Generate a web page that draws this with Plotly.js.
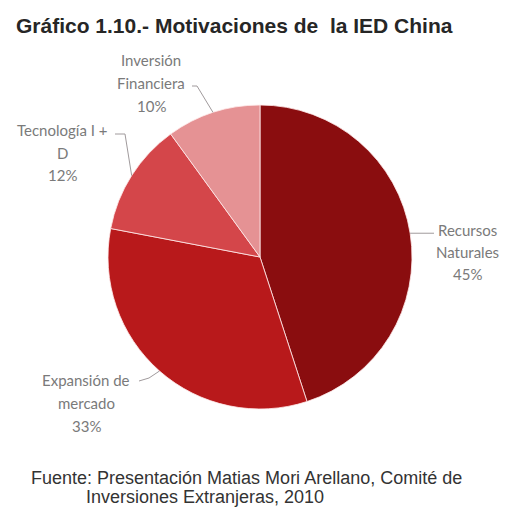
<!DOCTYPE html>
<html>
<head>
<meta charset="utf-8">
<script src="https://cdn.plot.ly/plotly-3.0.1.min.js"></script>
<style>html,body{margin:0;padding:0;background:#fff;}#chart{width:508px;height:508px;}</style>
</head>
<body>
<div id="chart"></div>
<script>
const categories = ['Recursos Naturales', 'Expansión de mercado', 'Tecnología I + D', 'Inversión Financiera'];
const values = [45, 33, 12, 10];
const colors = ['#8a0d0f', '#b8191b', '#d4464a', '#e59294'];
const labelLines = [['Recursos', 'Naturales'], ['Expansión de', 'mercado'], ['Tecnología I +', 'D'], ['Inversión', 'Financiera']];
const titleText = 'Gráfico 1.10.- Motivaciones de  la IED China';
const sourceLines = ['Fuente: Presentación Matias Mori Arellano, Comité de', 'Inversiones Extranjeras, 2010'];

const W = 508, H = 508;
const CX = 260, CY = 257, R = 152;
// label placement (pixels): centre x, first line y, line step; leader elbows
const labelPos = [
  {x: 467, y: 230, step: 22, elbow: [[434, 0]]},
  {x: 86, y: 380, step: 23, elbow: [[149, 378], [139, 381]]},
  {x: 62, y: 130, step: 22.5, elbow: [[125, 134], [115, 134]]},
  {x: 151, y: 60, step: 23, elbow: [[197, 86], [192, 86]]}
];

const px = x => x / W;
const py = y => 1 - y / H;

const total = values.reduce((a, b) => a + b, 0);
let cum = 0;
const annotations = [];
const shapes = [];
values.forEach((v, i) => {
  const mid = (cum + v / 2) / total * 2 * Math.PI;
  cum += v;
  const ex = CX + R * Math.sin(mid), ey = CY - R * Math.cos(mid);
  const lp = labelPos[i];
  const lines = labelLines[i].concat([v + '%']);
  lines.forEach((t, j) => {
    annotations.push({xref: 'paper', yref: 'paper', x: px(lp.x), y: py(lp.y + j * lp.step),
      text: t, showarrow: false, xanchor: 'center', yanchor: 'middle',
      font: {family: 'Lato, sans-serif', size: 15, color: '#7a7a7a'}});
  });
  let path = 'M' + px(ex) + ',' + py(ey);
  lp.elbow.forEach(p => {
    const yy = p[1] === 0 ? ey : p[1];
    path += ' L' + px(p[0]) + ',' + py(yy);
  });
  shapes.push({type: 'path', xref: 'paper', yref: 'paper', path: path, line: {color: '#a09a9c', width: 1}});
});

annotations.push({xref: 'paper', yref: 'paper', x: px(14), y: py(25), xanchor: 'left', yanchor: 'middle',
  text: '<b>' + titleText + '</b>', showarrow: false,
  font: {family: 'Liberation Sans, Arial, sans-serif', size: 21, color: '#262626'}});
annotations.push({xref: 'paper', yref: 'paper', x: px(29), y: py(478), xanchor: 'left', yanchor: 'middle',
  text: sourceLines[0], showarrow: false,
  font: {family: 'Liberation Sans, Arial, sans-serif', size: 18, color: '#333'}});
annotations.push({xref: 'paper', yref: 'paper', x: px(84), y: py(497), xanchor: 'left', yanchor: 'middle',
  text: sourceLines[1], showarrow: false,
  font: {family: 'Liberation Sans, Arial, sans-serif', size: 18, color: '#333'}});

const trace = {
  type: 'pie', labels: categories, values: values, sort: false, direction: 'clockwise', rotation: 0,
  marker: {colors: colors, line: {color: 'rgba(255,235,235,0.8)', width: 1}},
  textinfo: 'none', hoverinfo: 'label+percent', showlegend: false,
  domain: {x: [(CX - R) / W, (CX + R) / W], y: [1 - (CY + R) / H, 1 - (CY - R) / H]}
};

Plotly.newPlot('chart', [trace], {
  width: W, height: H, margin: {l: 0, r: 0, t: 0, b: 0},
  paper_bgcolor: '#fff', showlegend: false,
  annotations: annotations, shapes: shapes
}, {displayModeBar: false, staticPlot: true});
</script>
</body>
</html>
